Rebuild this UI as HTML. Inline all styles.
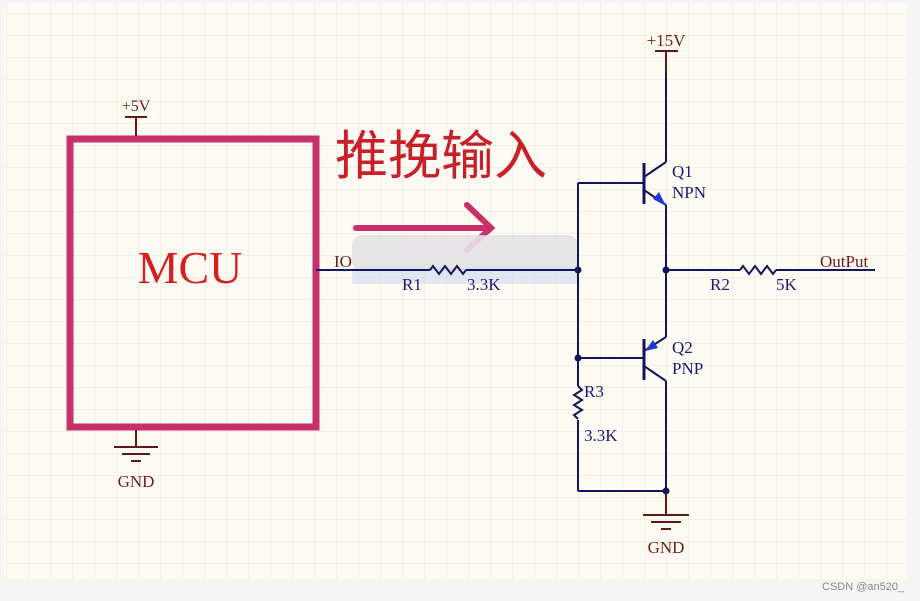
<!DOCTYPE html>
<html><head><meta charset="utf-8"><style>
html,body{margin:0;padding:0;background:#f5f5f5;width:920px;height:601px;overflow:hidden}
svg{display:block}
</style></head><body>
<svg width="920" height="601" viewBox="0 0 920 601" xmlns="http://www.w3.org/2000/svg" font-family="Liberation Serif, serif">
<defs>
<pattern id="g" x="6" y="13" width="22" height="22" patternUnits="userSpaceOnUse">
<path d="M0 0H22M0 0V22" stroke="#ece6d6" stroke-width="1" fill="none"/>
</pattern>
</defs>
<rect x="0" y="0" width="920" height="601" fill="#f5f5f5"/>
<rect x="4" y="3" width="903" height="576" fill="#fdfaf3"/>
<rect x="4" y="3" width="903" height="576" fill="url(#g)"/>

<!-- MCU -->
<rect x="70" y="139" width="246" height="288" fill="none" stroke="#c8306a" stroke-width="7"/>
<text x="190" y="283" font-size="46" fill="#d42020" text-anchor="middle">MCU</text>
<g stroke="#5a1a1a" stroke-width="2">
<line x1="125" y1="117" x2="147" y2="117"/><line x1="136" y1="117" x2="136" y2="136"/>
<line x1="136" y1="430" x2="136" y2="447"/>
<line x1="114" y1="447" x2="158" y2="447"/><line x1="122" y1="454" x2="150" y2="454"/><line x1="131" y1="461" x2="141" y2="461"/>
</g>
<text x="136" y="111" font-size="16" fill="#6a1e1e" text-anchor="middle">+5V</text>
<text x="136" y="487" font-size="17" fill="#6a1e1e" text-anchor="middle">GND</text>

<!-- title and arrow -->
<text x="335" y="174" font-size="53" fill="#c8202a" font-family="Noto Sans CJK SC, sans-serif">推挽输入</text>
<g stroke="#c8306a" stroke-width="6" fill="none" stroke-linecap="round">
<line x1="356" y1="228" x2="490" y2="228"/>
<polyline points="467,205 491,228 467,250"/>
</g>

<!-- blurred blob -->
<rect x="352" y="235" width="226" height="36" rx="10" fill="#dedde2" opacity="0.75"/>
<rect x="400" y="236" width="90" height="20" fill="#e8e2e6" opacity="0.7"/>
<rect x="352" y="268" width="226" height="16" fill="#cbd6ee" opacity="0.55"/>

<!-- wiring -->
<g stroke="#14145a" stroke-width="2" fill="none">
<line x1="316" y1="270" x2="430" y2="270"/>
<polyline points="430,270 433,266 439,274 445,266 451,274 457,266 463,274 466,270"/>
<line x1="466" y1="270" x2="578" y2="270"/>
<line x1="578" y1="183" x2="578" y2="491"/>
<line x1="578" y1="183" x2="644" y2="183"/>
<line x1="644" y1="163" x2="644" y2="204" stroke-width="3"/>
<line x1="644" y1="177" x2="666" y2="162"/>
<line x1="666" y1="52" x2="666" y2="162"/>
<line x1="644" y1="190" x2="666" y2="205"/>
<line x1="666" y1="205" x2="666" y2="337"/>
<line x1="666" y1="270" x2="740" y2="270"/>
<polyline points="740,270 743,266 749,274 755,266 761,274 767,266 773,274 776,270"/>
<line x1="776" y1="270" x2="875" y2="270"/>
<line x1="578" y1="358" x2="644" y2="358"/>
<line x1="644" y1="339" x2="644" y2="380" stroke-width="3"/>
<line x1="666" y1="337" x2="644" y2="351"/>
<line x1="644" y1="366" x2="666" y2="381"/>
<line x1="666" y1="381" x2="666" y2="491"/>
<line x1="578" y1="491" x2="666" y2="491"/>
</g>
<rect x="576" y="386" width="6" height="34" fill="#fdfaf3"/>
<polyline points="578,386 582,390 574,395 582,400 574,405 582,410 574,415 578,419" stroke="#14145a" stroke-width="2" fill="none"/>
<polygon points="666,206 653,199 659,192" fill="#1a3ad0"/>
<polygon points="645,351 653,340 658,348" fill="#1a3ad0"/>
<g fill="#14145a">
<circle cx="578" cy="270" r="3.5"/><circle cx="666" cy="270" r="3.5"/>
<circle cx="578" cy="358" r="3.5"/><circle cx="666" cy="491" r="3.5"/>
</g>

<!-- power -->
<g stroke="#5a1a1a" stroke-width="2">
<line x1="655" y1="51" x2="678" y2="51"/><line x1="666" y1="51" x2="666" y2="72"/>
<line x1="666" y1="493" x2="666" y2="514"/>
<line x1="643" y1="515" x2="689" y2="515"/><line x1="651" y1="522" x2="681" y2="522"/><line x1="661" y1="529" x2="671" y2="529"/>
</g>
<text x="666" y="46" font-size="17" fill="#6a1e1e" text-anchor="middle">+15V</text>
<text x="666" y="553" font-size="17" fill="#6a1e1e" text-anchor="middle">GND</text>

<!-- labels -->
<g font-size="17" fill="#1a1a6e">
<text x="672" y="177">Q1</text><text x="672" y="198">NPN</text>
<text x="672" y="353">Q2</text><text x="672" y="374">PNP</text>
<text x="584" y="397">R3</text><text x="584" y="441">3.3K</text>
<text x="402" y="290">R1</text><text x="467" y="290">3.3K</text>
<text x="710" y="290">R2</text><text x="776" y="290">5K</text>
</g>
<text x="334" y="267" font-size="17" fill="#6a1e1e">IO</text>
<text x="820" y="267" font-size="17" fill="#6a1e1e">OutPut</text>
<text x="822" y="590" font-size="11" fill="#888" font-family="Liberation Sans, sans-serif">CSDN @an520_</text>
</svg>
</body></html>
